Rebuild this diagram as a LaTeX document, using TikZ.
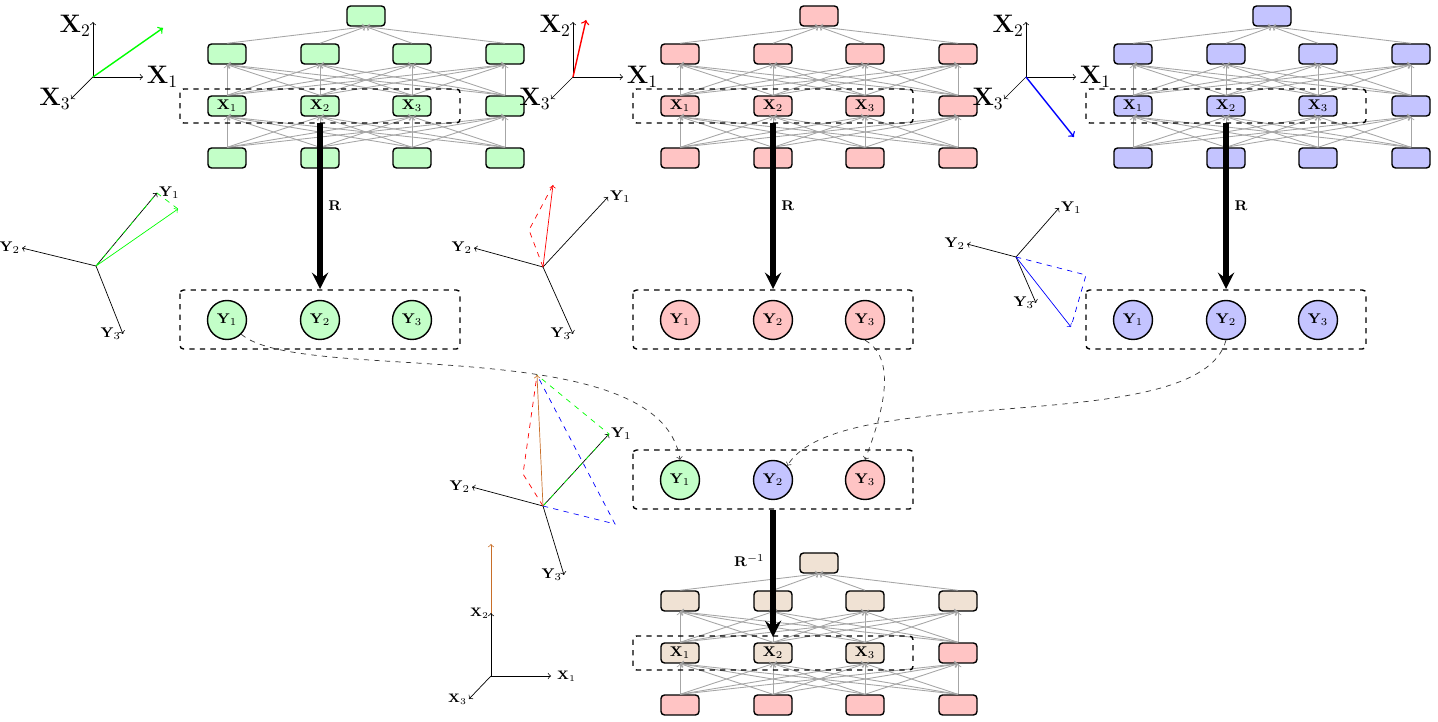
\documentclass[tikz,border=0pt]{standalone}
\usepackage{amsmath, amssymb}
\usetikzlibrary{arrows}
\usetikzlibrary{shapes}

\definecolor{gfill}{RGB}{195,255,200}
\definecolor{rfill}{RGB}{255,196,196}
\definecolor{bfill}{RGB}{196,196,255}
\definecolor{tfill}{RGB}{240,226,212}
\definecolor{brown}{RGB}{200,110,40}

\tikzset{
	unit/.style = {rectangle, rounded corners = 2pt, draw, thick, minimum width = 0.76cm, minimum height = 0.4cm, inner sep = 0pt, font = \footnotesize\bfseries},
	outunit/.style = {circle, draw, thick, minimum size = 0.78cm, inner sep = 0pt, font = \footnotesize},
	link/.style = {->, gray!70, line width = 0.5pt, >=to},
	groupbox/.style = {draw, dashed, thick, rounded corners = 2pt},
	bigarrow/.style = {->, line width = 3pt, >=stealth},
	flow/.style = {->, dashed, black!80, >=to},
	axis/.style = {->, >=to},
	lab/.style = {font = \footnotesize, inner sep = 1pt}
}

% one network: prefix, x shift, y shift, colour, colour of the spare units
\newcommand{\net}[5]{
	\foreach \i/\xx in {1/227, 2/320, 3/412, 4/505} {
		\node[unit, fill = #5] (#1b\i) at (\xx+#2, 158+#3) {};
		\node[unit, fill = #4] (#1h\i) at (\xx+#2, 54+#3) {};
	}
	\foreach \i/\xx in {1/227, 2/320, 3/412} {
		\node[unit, fill = #4] (#1x\i) at (\xx+#2, 106+#3) {$\mathbf{X}_\i$};
	}
	\node[unit, fill = #5] (#1x4) at (505+#2, 106+#3) {};
	\node[unit, fill = #4] (#1t) at (366+#2, 16+#3) {};
	\foreach \i in {1,...,4} {
		\foreach \j in {1,...,4} {
			\draw[link] (#1b\i.north) -- (#1x\j.south);
			\draw[link] (#1x\i.north) -- (#1h\j.south);
		}
		\draw[link] (#1h\i.north) -- (#1t.south);
	}
	\draw[groupbox] (180+#2, 89+#3) rectangle (460+#2, 123+#3);
}

% three output units in a box
\newcommand{\outs}[6]{
	\draw[groupbox] (180+#2, 290+#3) rectangle (460+#2, 349+#3);
	\node[outunit, fill = #4] (#1y1) at (227+#2, 320+#3) {$\mathbf{Y}_1$};
	\node[outunit, fill = #5] (#1y2) at (320+#2, 320+#3) {$\mathbf{Y}_2$};
	\node[outunit, fill = #6] (#1y3) at (412+#2, 320+#3) {$\mathbf{Y}_3$};
}

\begin{document}
\begin{tikzpicture}[x = 0.02cm, y = -0.02cm]
	\useasboundingbox (0,0) rectangle (1438,722);

	% networks
	\net{g}{0}{0}{gfill}{gfill}
	\net{r}{453}{0}{rfill}{rfill}
	\net{b}{906}{0}{bfill}{bfill}
	\net{m}{453}{547}{tfill}{rfill}

	% outputs
	\outs{g}{0}{0}{gfill}{gfill}{gfill}
	\outs{r}{453}{0}{rfill}{rfill}{rfill}
	\outs{b}{906}{0}{bfill}{bfill}{bfill}
	\outs{c}{453}{160}{gfill}{bfill}{rfill}

	% rotations
	\coordinate (gs) at (320,123);
	\coordinate (rs) at (773,123);
	\coordinate (bs) at (1226,123);
	\coordinate (cs) at (773,510);
	\coordinate (ge) at (320,289);
	\coordinate (re) at (773,289);
	\coordinate (be) at (1226,289);
	\coordinate (ce) at (773,637);
	\draw[bigarrow] (gs) -- node[right, font = \footnotesize] {$\mathbf{R}$} (ge);
	\draw[bigarrow] (rs) -- node[right, font = \footnotesize] {$\mathbf{R}$} (re);
	\draw[bigarrow] (bs) -- node[right, font = \footnotesize] {$\mathbf{R}$} (be);
	\draw[bigarrow] (cs) -- node[left, pos = 0.4, font = \footnotesize] {$\mathbf{R}^{-1}$} (ce);

	% gathering
	\draw[flow] (gy1.south east) .. controls (300,385) and (660,330) .. (cy1.north);
	\draw[flow] (ry3.south) .. controls (900,360) and (880,420) .. (cy3.north);
	\draw[flow] (by2.south) .. controls (1200,440) and (840,380) .. (cy2.north east);

	% input axes
	\foreach \n/\ox/\col/\vx/\vy in {ga/93/green/163/28, ra/573/red/586/20, ba/1026/blue/1074/137} {
		\coordinate (\n o) at (\ox,77);
		\coordinate (\n 2t) at (\ox,22);
		\coordinate (\n 1t) at (\ox+50,77);
		\coordinate (\n 3t) at (\ox-22,99);
		\draw[axis] (\n o) -- (\n 2t) node[below left, font = \Large, inner sep = 1pt, yshift = 5pt] {$\mathbf{X}_2$};
		\draw[axis] (\n o) -- (\n 1t) node[right, font = \Large, inner sep = 2pt] {$\mathbf{X}_1$};
		\draw[axis] (\n o) -- (\n 3t) node[left, font = \Large, inner sep = 0pt] {$\mathbf{X}_3$};
		\coordinate (\n v) at (\vx,\vy);
		\draw[axis, \col, thick] (\n o) -- (\n v);
	}

	% output axes
	\coordinate (go) at (96,266);
	\coordinate (g1) at (157,193);
	\coordinate (g2) at (22,248);
	\coordinate (g3) at (123,334);
	\coordinate (gv) at (178,209);
	\draw[axis] (go) -- (g1) node[right, lab] {$\mathbf{Y}_1$};
	\draw[axis] (go) -- (g2) node[left, lab] {$\mathbf{Y}_2$};
	\draw[axis] (go) -- (g3) node[left, lab] {$\mathbf{Y}_3$};
	\draw[green, dashed] (go) -- (g1) -- (gv);
	\draw[axis, green] (go) -- (gv);

	\coordinate (ro) at (543,267);
	\coordinate (r1) at (608,197);
	\coordinate (r2) at (474,248);
	\coordinate (r3) at (573,334);
	\coordinate (rp) at (529,230);
	\coordinate (rv) at (553,185);
	\draw[axis] (ro) -- (r1) node[right, lab] {$\mathbf{Y}_1$};
	\draw[axis] (ro) -- (r2) node[left, lab] {$\mathbf{Y}_2$};
	\draw[axis] (ro) -- (r3) node[left, lab] {$\mathbf{Y}_3$};
	\draw[red, dashed] (ro) -- (rp) -- (rv);
	\draw[axis, red] (ro) -- (rv);

	\coordinate (bo) at (1016,257);
	\coordinate (b1) at (1059,208);
	\coordinate (b2) at (967,244);
	\coordinate (b3) at (1036,303);
	\coordinate (bp) at (1086,275);
	\coordinate (bv) at (1071,327);
	\draw[axis] (bo) -- (b1) node[right, lab] {$\mathbf{Y}_1$};
	\draw[axis] (bo) -- (b2) node[left, lab] {$\mathbf{Y}_2$};
	\draw[axis] (bo) -- (b3) node[left, lab] {$\mathbf{Y}_3$};
	\draw[blue, dashed] (bo) -- (bp) -- (bv);
	\draw[axis, blue] (bo) -- (bv);

	% combined axes
	\coordinate (co) at (543,506);
	\coordinate (c1) at (609,434);
	\coordinate (c2) at (472,487);
	\coordinate (c3) at (564,575);
	\coordinate (cr) at (523,474);
	\coordinate (cb) at (615,524);
	\coordinate (cv) at (537,375);
	\draw[axis] (co) -- (c1) node[right, lab] {$\mathbf{Y}_1$};
	\draw[axis] (co) -- (c2) node[left, lab] {$\mathbf{Y}_2$};
	\draw[axis] (co) -- (c3) node[left, lab] {$\mathbf{Y}_3$};
	\draw[green, dashed] (co) -- (c1) -- (cv);
	\draw[red, dashed] (co) -- (cr) -- (cv);
	\draw[blue, dashed] (co) -- (cb) -- (cv);
	\draw[axis, brown] (co) -- (cv);

	% result axes
	\coordinate (xo) at (491,676);
	\coordinate (x1) at (551,676);
	\coordinate (x2) at (491,613);
	\coordinate (x3) at (469,699);
	\coordinate (xv) at (491,544);
	\draw[axis, brown] (xo) -- (xv);
	\draw[axis] (xo) -- (x1) node[right, font = \scriptsize] {$\mathbf{X}_1$};
	\draw[axis] (xo) -- (x2) node[left, font = \scriptsize, inner sep = 1pt] {$\mathbf{X}_2$};
	\draw[axis] (xo) -- (x3) node[left, font = \scriptsize, inner sep = 1pt] {$\mathbf{X}_3$};
\end{tikzpicture}
\end{document}
